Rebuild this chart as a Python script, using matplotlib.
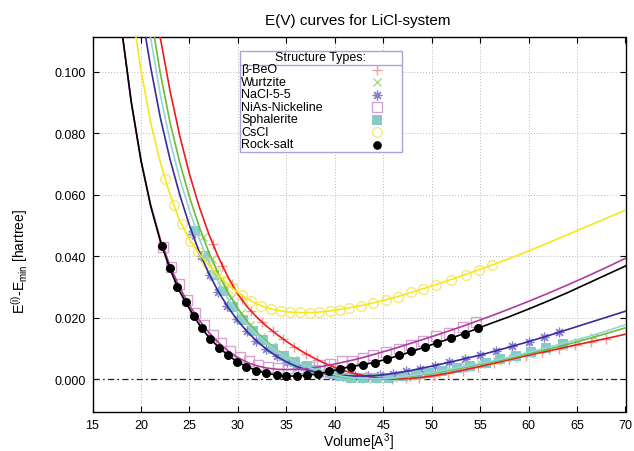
import matplotlib
matplotlib.use('Agg')
import matplotlib.pyplot as plt
from matplotlib.lines import Line2D
from matplotlib.patches import Rectangle
from matplotlib.ticker import FormatStrFormatter

plt.rcParams['font.family'] = ['Liberation Sans', 'DejaVu Sans']
plt.rcParams['mathtext.fontset'] = 'custom'
plt.rcParams['mathtext.rm'] = 'Liberation Sans'
plt.rcParams['mathtext.it'] = 'Liberation Sans:italic'

# ---------------- data ----------------
labels = ['β-BeO', 'Wurtzite', 'NaCl-5-5', 'NiAs-Nickeline', 'Sphalerite', 'CsCl', 'Rock-salt']

# fitted curves
beo_V = [21.7, 22, 23, 24, 25, 26, 27, 28, 29, 30, 31, 32, 33, 34, 35, 36, 37, 38, 39, 40, 41, 42, 43, 44, 45,
         46, 47, 48, 49, 50, 52, 55, 58, 60, 62, 65, 68, 70]
beo_E = [0.117, 0.111, 0.0938, 0.0792, 0.0668, 0.0562, 0.0472, 0.0396, 0.0331, 0.0276, 0.0234, 0.0200, 0.0171,
         0.0146, 0.0123, 0.0102, 0.0083, 0.0066, 0.0051, 0.0038, 0.0027, 0.0018, 0.0011, 0.0006, 0.0002,
         0.0000, 0.0001, 0.0003, 0.0006, 0.0010, 0.0021, 0.0041, 0.0063, 0.0078, 0.0091, 0.0112, 0.0132, 0.0146]

wur_V = [21.1, 21.4, 22, 23, 24, 25, 26, 27, 28, 29, 30, 31, 32, 33, 34, 35, 36, 37, 38, 39, 40, 41, 42, 43, 44,
         45, 46, 47, 48, 50, 52, 54, 56, 58, 60, 62, 64, 66, 68, 70]
wur_E = [0.118, 0.111, 0.0995, 0.0835, 0.0705, 0.0593, 0.0497, 0.0413, 0.0342, 0.0281, 0.0230, 0.0187, 0.0151,
         0.0121, 0.0095, 0.0074, 0.0056, 0.0041, 0.0029, 0.0019, 0.0012, 0.0006, 0.0003, 0.0001, 0.0000,
         0.0001, 0.0003, 0.0006, 0.0010, 0.0019, 0.0030, 0.0042, 0.0054, 0.0067, 0.0082, 0.0097, 0.0113,
         0.0130, 0.0148, 0.0167]

nacl_V = [20.2, 20.5, 21, 22, 23, 24, 25, 26, 27, 28, 29, 30, 31, 32, 33, 34, 35, 36, 37, 38, 39, 40, 41, 42, 43,
          44, 45, 46, 47, 48, 50, 52, 55, 58, 60, 62, 65, 68, 70]
nacl_E = [0.118, 0.111, 0.1015, 0.0850, 0.0715, 0.0600, 0.0500, 0.0415, 0.0344, 0.0284, 0.0233, 0.0190, 0.0153,
          0.0122, 0.0096, 0.0074, 0.0056, 0.0042, 0.0031, 0.0023, 0.0017, 0.0013, 0.0011, 0.0010, 0.0010,
          0.0011, 0.0014, 0.0018, 0.0023, 0.0029, 0.0042, 0.0056, 0.0078, 0.0104, 0.0122, 0.0141, 0.0171,
          0.0201, 0.0221]

nias_V = [17.8, 18, 19, 20, 21, 22, 23, 24, 25, 26, 27, 28, 29, 30, 31, 32, 33, 34, 35, 36, 37, 38, 39, 40, 41,
          42, 43, 44, 45, 46, 47, 48, 49, 50, 52, 54, 56, 58, 60, 62, 64, 66, 68, 70]
nias_E = [0.119, 0.114, 0.0902, 0.0713, 0.0567, 0.0455, 0.0368, 0.0298, 0.0240, 0.0192, 0.0152, 0.0119, 0.0092,
          0.0070, 0.0054, 0.0043, 0.0036, 0.0032, 0.0031, 0.0032, 0.0034, 0.0038, 0.0043, 0.0049, 0.0056,
          0.0063, 0.0071, 0.0080, 0.0089, 0.0098, 0.0108, 0.0118, 0.0128, 0.0138, 0.0159, 0.0181, 0.0204,
          0.0228, 0.0253, 0.0279, 0.0306, 0.0334, 0.0363, 0.0393]

sph_V = [20.7, 21, 22, 23, 24, 25, 26, 27, 28, 29, 30, 31, 32, 33, 34, 35, 36, 37, 38, 39, 40, 41, 42, 43, 44,
         45, 46, 47, 48, 50, 52, 54, 56, 58, 60, 62, 64, 66, 68, 70]
sph_E = [0.118, 0.111, 0.0925, 0.0775, 0.0652, 0.0550, 0.0458, 0.0380, 0.0315, 0.0260, 0.0215, 0.0177, 0.0145,
         0.0117, 0.0093, 0.0073, 0.0056, 0.0042, 0.0030, 0.0021, 0.0014, 0.0008, 0.0004, 0.0002, 0.0001,
         0.0002, 0.0004, 0.0008, 0.0012, 0.0021, 0.0033, 0.0045, 0.0057, 0.0071, 0.0087, 0.0103, 0.0120,
         0.0137, 0.0156, 0.0177]

cscl_V = [19.2, 19.5, 20, 21, 22, 23, 24, 25, 26, 27, 28, 29, 30, 31, 32, 33, 34, 35, 36, 37, 38, 39, 40, 41, 42,
          43, 44, 45, 46, 47, 48, 50, 52, 55, 58, 60, 62, 65, 68, 70]
cscl_E = [0.118, 0.111, 0.1005, 0.0835, 0.0705, 0.0600, 0.0515, 0.0455, 0.0408, 0.0370, 0.0337, 0.0307, 0.0282,
          0.0261, 0.0244, 0.0232, 0.0224, 0.0219, 0.0217, 0.0216, 0.0217, 0.0220, 0.0224, 0.0229, 0.0235,
          0.0241, 0.0248, 0.0256, 0.0264, 0.0273, 0.0283, 0.0303, 0.0324, 0.0357, 0.0392, 0.0417, 0.0443,
          0.0483, 0.0523, 0.0550]

rock_V = [17.8, 18, 19, 20, 21, 22, 23, 24, 25, 26, 27, 28, 29, 30, 31, 32, 33, 34, 35, 36, 37, 38, 39, 40, 41,
          42, 43, 44, 45, 46, 47, 48, 49, 50, 52, 54, 56, 58, 60, 62, 64, 66, 68, 70]
rock_E = [0.119, 0.114, 0.0901, 0.0711, 0.0563, 0.0448, 0.0357, 0.0285, 0.0229, 0.0178, 0.0136, 0.0104, 0.0077,
          0.0055, 0.0039, 0.0027, 0.0019, 0.0013, 0.0010, 0.0010, 0.0012, 0.0016, 0.0022, 0.0029, 0.0036,
          0.0043, 0.0047, 0.0054, 0.0062, 0.0071, 0.0080, 0.0091, 0.0101, 0.0112, 0.0133, 0.0156, 0.0180,
          0.0203, 0.0228, 0.0254, 0.0281, 0.0310, 0.0339, 0.0368]

# calculated points
beo_pV = [27.4, 28.4, 29.4, 30.4, 31.4, 32.5, 33.6, 34.7, 35.8, 37.0, 38.2, 39.4, 40.6, 41.9, 43.2, 44.5, 45.9,
          47.3, 48.7, 50.2, 51.7, 53.2, 54.8, 56.4, 58.0, 59.7, 61.4, 63.1, 64.8, 66.4, 68.0]
beo_pE = [0.0440, 0.0369, 0.0308, 0.0259, 0.0220, 0.0185, 0.0156, 0.0130, 0.0106, 0.0083, 0.0063, 0.0046, 0.0031,
          0.0019, 0.0010, 0.0004, 0.0000, 0.0002, 0.0005, 0.0011, 0.0019, 0.0028, 0.0040, 0.0051, 0.0063,
          0.0076, 0.0087, 0.0099, 0.0111, 0.0121, 0.0132]

wur_pV = [26.4, 27.3, 28.3, 29.3, 30.3, 31.3, 32.4, 33.5, 34.6, 35.7, 36.9, 38.1, 39.3, 40.6, 41.9, 43.2, 44.6,
          46.0, 47.4, 48.9, 50.4, 51.9, 53.5, 55.1, 56.7, 58.4, 60.1, 61.8, 63.5, 65.1, 66.8]
wur_pE = [0.0463, 0.0391, 0.0323, 0.0265, 0.0216, 0.0176, 0.0138, 0.0108, 0.0082, 0.0061, 0.0042, 0.0028, 0.0017,
          0.0008, 0.0003, 0.0001, 0.0000, 0.0003, 0.0007, 0.0014, 0.0021, 0.0029, 0.0039, 0.0049, 0.0058,
          0.0070, 0.0083, 0.0095, 0.0109, 0.0122, 0.0137]

nacl_pV = [25.3, 26.2, 27.1, 28.0, 28.9, 29.9, 30.9, 31.9, 32.9, 34.0, 35.1, 36.2, 37.3, 38.5, 39.7, 40.9, 42.1,
           43.4, 44.7, 46.0, 47.4, 48.8, 50.3, 51.8, 53.4, 55.0, 56.6, 58.3, 60.0, 61.6, 63.1]
nacl_pE = [0.0473, 0.0400, 0.0338, 0.0284, 0.0238, 0.0194, 0.0157, 0.0125, 0.0098, 0.0074, 0.0055, 0.0040, 0.0029,
           0.0020, 0.0014, 0.0011, 0.0010, 0.0010, 0.0013, 0.0018, 0.0025, 0.0034, 0.0044, 0.0055, 0.0066,
           0.0078, 0.0092, 0.0107, 0.0122, 0.0137, 0.0152]

nias_pV = [22.3, 23.1, 23.9, 24.8, 25.6, 26.5, 27.4, 28.3, 29.2, 30.2, 31.1, 32.1, 33.1, 34.1, 35.2, 36.2, 37.3,
           38.4, 39.5, 40.7, 41.8, 42.9, 43.9, 45.3, 46.6, 47.9, 49.1, 50.4, 51.8, 53.2, 54.6]
nias_pE = [0.0430, 0.0365, 0.0310, 0.0256, 0.0215, 0.0177, 0.0144, 0.0116, 0.0093, 0.0072, 0.0058, 0.0047, 0.0040,
           0.0037, 0.0036, 0.0037, 0.0040, 0.0045, 0.0050, 0.0058, 0.0059, 0.0070, 0.0078, 0.0089, 0.0097,
           0.0110, 0.0123, 0.0139, 0.0151, 0.0168, 0.0186]

sph_pV = [25.6, 26.6, 27.5, 28.5, 29.5, 30.55, 31.6, 32.6, 33.6, 34.8, 35.9, 37.1, 38.1, 39.5, 40.5, 41.7, 42.9,
          44.3, 45.6, 47.0, 48.4, 49.75, 51.1, 52.6, 54.0, 55.6, 57.1, 58.7, 60.2, 61.8, 63.5]
sph_pE = [0.0482, 0.0400, 0.0340, 0.0287, 0.0236, 0.0193, 0.0157, 0.0127, 0.0098, 0.0076, 0.0057, 0.0042, 0.0029,
          0.0019, 0.0011, 0.0005, 0.0002, 0.0002, 0.0005, 0.0009, 0.0014, 0.0020, 0.0027, 0.0036, 0.0044,
          0.0053, 0.0064, 0.0076, 0.0088, 0.0101, 0.0115]

cscl_pV = [22.5, 23.4, 24.2, 25.1, 25.9, 26.8, 27.7, 28.6, 29.5, 30.4, 31.4, 32.4, 33.4, 34.4, 35.4, 36.4, 37.4,
           38.4, 39.5, 40.5, 41.5, 42.7, 43.9, 45.3, 46.5, 47.9, 49.1, 50.4, 52.0, 53.5, 54.9, 56.2]
cscl_pE = [0.0652, 0.0566, 0.0503, 0.0450, 0.0413, 0.0378, 0.0347, 0.0319, 0.0295, 0.0274, 0.0254, 0.0239, 0.0229,
           0.0222, 0.0218, 0.0217, 0.0216, 0.0218, 0.0222, 0.0226, 0.0232, 0.0239, 0.0247, 0.0258, 0.0268,
           0.0282, 0.0294, 0.0307, 0.0324, 0.0340, 0.0356, 0.0370]

rock_pV = [22.16, 22.95, 23.77, 24.63, 25.45, 26.27, 27.16, 28.06, 28.95, 29.9, 30.86, 31.9, 32.9, 34.0, 35.0,
           36.07, 37.1, 38.27, 39.4, 40.5, 41.7, 42.9, 44.1, 45.4, 46.67, 47.9, 49.3, 50.6, 52.0, 53.4, 54.75]
rock_pE = [0.0433, 0.0360, 0.0301, 0.0250, 0.0206, 0.0165, 0.0130, 0.0102, 0.0077, 0.0056, 0.0040, 0.0028, 0.0019,
           0.0013, 0.0010, 0.0011, 0.0013, 0.0018, 0.0026, 0.0034, 0.0041, 0.0046, 0.0054, 0.0066, 0.0077,
           0.0090, 0.0104, 0.0118, 0.0133, 0.0147, 0.0165]

x_ticks = [15, 20, 25, 30, 35, 40, 45, 50, 55, 60, 65, 70]
y_ticks = [0.000, 0.020, 0.040, 0.060, 0.080, 0.100]

# ---------------- styles ----------------
series = [
    (beo_V, beo_E, beo_pV, beo_pE, '#ee1c1c', dict(marker='+', ms=7, mew=1.0, mec='#f39a9a', mfc='none')),
    (wur_V, wur_E, wur_pV, wur_pE, '#6fbb3a', dict(marker='x', ms=5.5, mew=1.0, mec='#a9d98c', mfc='none')),
    (nacl_V, nacl_E, nacl_pV, nacl_pE, '#3a2a9c', dict(marker=(8, 2, 0), ms=7, mew=0.9, mec='#8a80d0', mfc='none')),
    (nias_V, nias_E, nias_pV, nias_pE, '#b03c9c', dict(marker='s', ms=6.5, mew=1.0, mec='#d4a4d2', mfc='none')),
    (sph_V, sph_E, sph_pV, sph_pE, '#94d6d6', dict(marker='s', ms=6.8, mew=0, mec='#88c9c9', mfc='#88c9c9')),
    (cscl_V, cscl_E, cscl_pV, cscl_pE, '#f8e71c', dict(marker='o', ms=7, mew=1.0, mec='#f3ea7a', mfc='none')),
    (rock_V, rock_E, rock_pV, rock_pE, '#000000', dict(marker='o', ms=6.2, mew=0, mec='black', mfc='black')),
]

W, H = 634, 452
fig = plt.figure(figsize=(W / 100, H / 100), dpi=100)
L, R, T, B = 92.5, 625.5, 38.3, 413.0
ax = fig.add_axes([L / W, 1 - B / H, (R - L) / W, (B - T) / H])

for i, (cv, ce, pv, pe, col, mk) in enumerate(series):
    ax.plot(pv, pe, linestyle='none', zorder=3 + i * 0.1, **mk)
for i, (cv, ce, pv, pe, col, mk) in enumerate(series):
    ax.plot(cv, ce, color=col, lw=1.2, zorder=4 + i * 0.1, solid_joinstyle='round')
# rock-salt points on top
ax.plot(rock_pV, rock_pE, linestyle='none', zorder=6, **series[-1][5])

ax.axhline(0, color='#222222', lw=0.9, ls=(0, (5, 2.5, 1.5, 2.5)), zorder=2)

ax.set_xlim(15, 70)
ax.set_ylim(-0.0107, 0.1112)
ax.set_xticks(x_ticks)
ax.set_yticks(y_ticks)
ax.yaxis.set_major_formatter(FormatStrFormatter('%.3f'))
ax.tick_params(direction='in', length=4.5, width=0.8, top=True, right=True, labelsize=9, pad=5,
               colors='black')
for s in ax.spines.values():
    s.set_linewidth(1.0)
for xv in x_ticks[1:-1]:
    ax.axvline(xv, color='#b8b8b8', lw=0.7, ls=(0, (1, 2)), zorder=1)
for yv in y_ticks[1:]:
    ax.axhline(yv, color='#b8b8b8', lw=0.7, ls=(0, (1, 2)), zorder=1)

# texts
fig.text(358 / W, 1 - 21.5 / H, 'E(V) curves for LiCl-system', ha='center', va='center', fontsize=11)
fig.text(358 / W, 1 - 442 / H, r'Volume[A$^{3}$]', ha='center', va='center', fontsize=10)
fig.text(20 / W, 1 - 262 / H, r'E$^{\mathrm{(i)}}$-E$_{\mathrm{min}}$ [hartree]', ha='center', va='center',
         rotation=90, fontsize=10)

# legend box (gnuplot style)
def fx(px):
    return px / W

def fy(py):
    return 1 - py / H

bl, br, bt, bb = 239.5, 401.5, 51.5, 152.5
fig.add_artist(Rectangle((fx(bl), fy(bb)), fx(br) - fx(bl), fy(bt) - fy(bb), transform=fig.transFigure,
                         facecolor='white', edgecolor='#a6a6d8', lw=1.0, zorder=10))
fig.add_artist(Line2D([fx(bl), fx(br)], [fy(65.5), fy(65.5)], transform=fig.transFigure, color='#a6a6d8',
                      lw=1.0, zorder=11))
fig.text(fx((bl + br) / 2), fy(58.5), 'Structure Types:', ha='center', va='center', fontsize=9, zorder=12)
row_y = [70.5, 83.0, 95.5, 108.0, 120.5, 133.0, 145.5]
for lab, ry, s in zip(labels, row_y, series):
    fig.text(fx(bl + 1.5), fy(ry), lab, ha='left', va='center', fontsize=9, zorder=12)
    fig.add_artist(Line2D([fx(376.5)], [fy(ry)], transform=fig.transFigure, linestyle='none', zorder=12,
                          **s[5]))

fig.savefig('out.png', dpi=100)
